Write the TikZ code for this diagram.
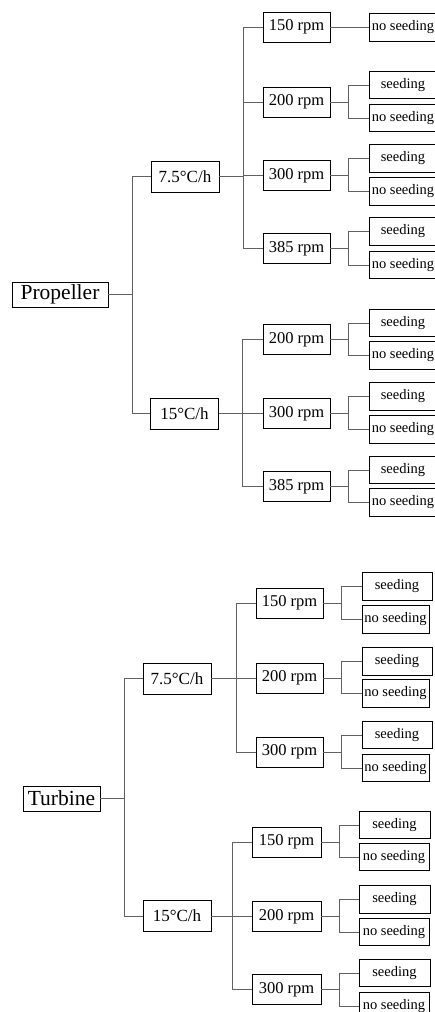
\documentclass[tikz,border=0pt]{standalone}
\usepackage{fontspec}
\setmainfont{Liberation Serif}
\newcommand\forkto[4]{%
  \draw[con] (#1.east) -- (#1.east -| #4);
  \draw[con] (#2.west) -- (#2.west -| #4) -- (#3.west -| #4) -- (#3.west);}
\begin{document}
\begin{tikzpicture}[x=1pt,y=-1pt,
  box/.style={draw=black, line width=0.8pt, inner sep=0pt, anchor=center, fill=white},
  con/.style={draw=black!62, line width=0.9pt},
  rpm/.style={box, minimum width=67pt, minimum height=30pt, font=\fontsize{16.5}{18}\selectfont},
  sd/.style={box, minimum width=68pt, minimum height=27.5pt, font=\fontsize{14.5}{16}\selectfont},
  temp/.style={box, minimum width=68pt, minimum height=31pt, font=\fontsize{17}{19}\selectfont},
  root/.style={box, minimum height=25pt, font=\fontsize{21.5}{24}\selectfont}]
\fill[white] (0,0) rectangle (435,1012);
\useasboundingbox (0,0) rectangle (435,1012);
\clip (0,0) rectangle (435,1012);

% ---------------- Propeller ----------------
\node[root, minimum width=96pt] (prop) at (60,294.5) {Propeller};
\node[temp] (pa) at (185,176.5) {7.5°C/h};
\node[temp] (pb) at (184.5,413.5) {15°C/h};
\node[rpm] (pa1) at (296.5,27) {150 rpm};
\node[rpm] (pa2) at (296.5,102) {200 rpm};
\node[rpm] (pa3) at (296.5,175.5) {300 rpm};
\node[rpm] (pa4) at (296.5,248.5) {385 rpm};
\node[rpm] (pb1) at (296.5,339.5) {200 rpm};
\node[rpm] (pb2) at (296.5,413.5) {300 rpm};
\node[rpm] (pb3) at (296.5,486.5) {385 rpm};

\node[sd, minimum height=28pt] (pa1n) at (403,27) {no seeding};
\node[sd] (pa2s) at (403,85) {seeding};
\node[sd] (pa2n) at (403,118) {no seeding};
\node[sd] (pa3s) at (403,158.5) {seeding};
\node[sd] (pa3n) at (403,191.5) {no seeding};
\node[sd] (pa4s) at (403,231.5) {seeding};
\node[sd] (pa4n) at (403,265) {no seeding};
\node[sd] (pb1s) at (403,323) {seeding};
\node[sd] (pb1n) at (403,355.5) {no seeding};
\node[sd] (pb2s) at (403,396.5) {seeding};
\node[sd] (pb2n) at (403,429.5) {no seeding};
\node[sd] (pb3s) at (403,470) {seeding};
\node[sd] (pb3n) at (403,502.5) {no seeding};

\coordinate (ptk) at (132,0);
\coordinate (pak) at (243,0);
\coordinate (pbk) at (242,0);
\coordinate (pfk) at (348,0);
\draw[con] (prop.east) -- (prop.east -| ptk);
\draw[con] (pa.west) -- (pa.west -| ptk) -- (pb.west -| ptk) -- (pb.west);
\draw[con] (pa.east) -- (pa.east -| pak);
\draw[con] (pa1.west) -- (pa1.west -| pak) -- (pa4.west -| pak) -- (pa4.west);
\draw[con] (pa2.west) -- (pa2.west -| pak);
\draw[con] (pa3.west) -- (pa3.west -| pak);
\draw[con] (pb.east) -- (pb.east -| pbk);
\draw[con] (pb1.west) -- (pb1.west -| pbk) -- (pb3.west -| pbk) -- (pb3.west);
\draw[con] (pb2.west) -- (pb2.west -| pbk);
\draw[con] (pa1.east) -- (pa1n.west);
\forkto{pa2}{pa2s}{pa2n}{pfk}
\forkto{pa3}{pa3s}{pa3n}{pfk}
\forkto{pa4}{pa4s}{pa4n}{pfk}
\forkto{pb1}{pb1s}{pb1n}{pfk}
\forkto{pb2}{pb2s}{pb2n}{pfk}
\forkto{pb3}{pb3s}{pb3n}{pfk}

% ---------------- Turbine ----------------
\node[root, minimum width=77pt] (tur) at (61.5,798.5) {Turbine};
\node[temp] (ta) at (177,678.5) {7.5°C/h};
\node[temp] (tb) at (177,916) {15°C/h};
\node[rpm] (ta1) at (289.5,603) {150 rpm};
\node[rpm] (ta2) at (289.5,678) {200 rpm};
\node[rpm] (ta3) at (289.5,752) {300 rpm};
\node[rpm, minimum width=69pt] (tb1) at (286.5,842) {150 rpm};
\node[rpm, minimum width=69pt] (tb2) at (286.5,916.5) {200 rpm};
\node[rpm, minimum width=69pt] (tb3) at (286.5,989.5) {300 rpm};

\node[sd, minimum width=70pt] (ta1s) at (397,586.5) {seeding};
\node[sd, minimum width=67pt] (ta1n) at (395.5,619.5) {no seeding};
\node[sd, minimum width=70pt] (ta2s) at (397,661.5) {seeding};
\node[sd, minimum width=67pt] (ta2n) at (395.5,693.5) {no seeding};
\node[sd, minimum width=70pt] (ta3s) at (397,735) {seeding};
\node[sd, minimum width=67pt] (ta3n) at (395.5,768) {no seeding};
\node[sd, minimum width=71pt] (tb1s) at (394.5,825) {seeding};
\node[sd, minimum width=70pt] (tb1n) at (394,857) {no seeding};
\node[sd, minimum width=71pt] (tb2s) at (394.5,899.5) {seeding};
\node[sd, minimum width=70pt] (tb2n) at (394,932) {no seeding};
\node[sd, minimum width=71pt] (tb3s) at (394.5,973) {seeding};
\node[sd, minimum width=70pt, minimum height=28pt] (tb3n) at (394,1006) {no seeding};

\coordinate (ttk) at (124,0);
\coordinate (tak) at (236,0);
\coordinate (tbk) at (232,0);
\coordinate (tafk) at (341,0);
\coordinate (tbfk) at (339,0);
\draw[con] (tur.east) -- (tur.east -| ttk);
\draw[con] (ta.west) -- (ta.west -| ttk) -- (tb.west -| ttk) -- (tb.west);
\draw[con] (ta.east) -- (ta.east -| tak);
\draw[con] (ta1.west) -- (ta1.west -| tak) -- (ta3.west -| tak) -- (ta3.west);
\draw[con] (ta2.west) -- (ta2.west -| tak);
\draw[con] (tb.east) -- (tb.east -| tbk);
\draw[con] (tb1.west) -- (tb1.west -| tbk) -- (tb3.west -| tbk) -- (tb3.west);
\draw[con] (tb2.west) -- (tb2.west -| tbk);
\forkto{ta1}{ta1s}{ta1n}{tafk}
\forkto{ta2}{ta2s}{ta2n}{tafk}
\forkto{ta3}{ta3s}{ta3n}{tafk}
\forkto{tb1}{tb1s}{tb1n}{tbfk}
\forkto{tb2}{tb2s}{tb2n}{tbfk}
\forkto{tb3}{tb3s}{tb3n}{tbfk}
\end{tikzpicture}
\end{document}
